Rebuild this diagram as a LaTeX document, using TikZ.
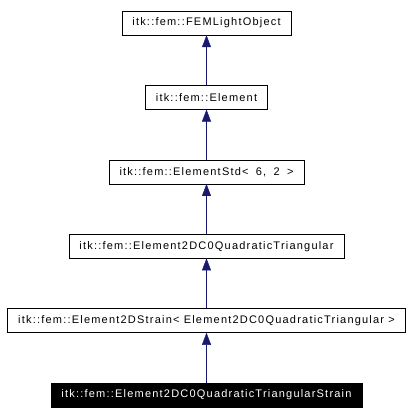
\documentclass[tikz,border=0pt]{standalone}
\usepackage{fontspec}
\setmainfont{Liberation Sans}[LetterSpace=11]
\usetikzlibrary{arrows.meta,positioning}
\definecolor{edgeblue}{HTML}{191970}

\begin{document}
\begin{tikzpicture}[
    x=1pt, y=1pt,
    node distance=50pt,
    every node/.style={draw, minimum height=24pt, inner xsep=10.5pt, text centered, font=\fontsize{11}{13}\selectfont},
    cls/.style={fill=white},
    current/.style={fill=black, text=white},
    inherit/.style={draw=edgeblue, -{Triangle[width=9pt,length=12pt]}}
]
\useasboundingbox (0,0) rectangle (412,415);

\node[current] (strain) at (206.5,20) {itk::fem::Element2DC0QuadraticTriangularStrain};
\node[cls, above=of strain] (strain2d) {itk::fem::Element2DStrain< Element2DC0QuadraticTriangular >};
\node[cls, above=of strain2d] (quadtri) {itk::fem::Element2DC0QuadraticTriangular};
\node[cls, above=of quadtri] (elemstd) {itk::fem::ElementStd<\ \;6,\ \;2\ \;>};
\node[cls, above=of elemstd] (element) {itk::fem::Element};
\node[cls, above=of element] (lightobj) {itk::fem::FEMLightObject};

\draw[inherit] (strain) -- (strain2d);
\draw[inherit] (strain2d) -- (quadtri);
\draw[inherit] (quadtri) -- (elemstd);
\draw[inherit] (elemstd) -- (element);
\draw[inherit] (element) -- (lightobj);

\end{tikzpicture}
\end{document}
